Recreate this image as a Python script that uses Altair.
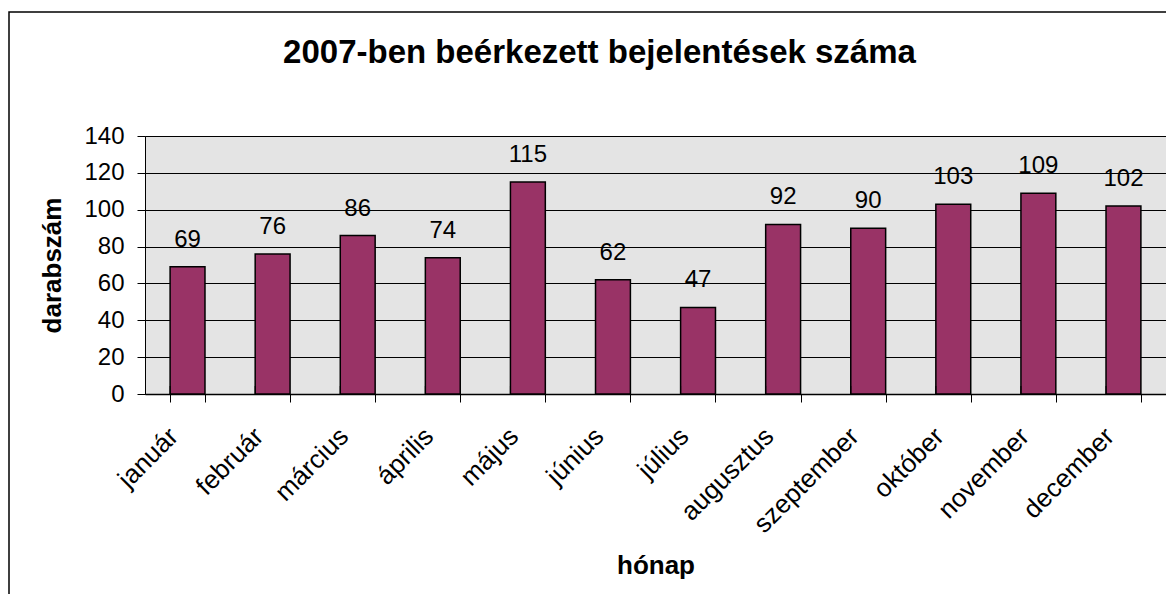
import altair as alt
import pandas as pd

# ---- data ----
months = ["január", "február", "március", "április", "május", "június",
          "július", "augusztus", "szeptember", "október", "november", "december"]
counts = [69, 76, 86, 74, 115, 62, 47, 92, 90, 103, 109, 102]
y_ticks = [0, 20, 40, 60, 80, 100, 120, 140]

title_text = "2007-ben beérkezett bejelentések száma"
x_title = "hónap"
y_title = "darabszám"

df = pd.DataFrame({"honap": months, "db": counts})

W, H = 1021, 258
FONT = "Liberation Sans"
BAR = "#993366"

x_axis = alt.Axis(
    labelAngle=-45, labelAlign="right", labelBaseline="middle",
    labelFontSize=26, labelFont=FONT, labelColor="black",
    labelPadding=30, labelOffset=-14, labelOverlap=False,
    tickBand="extent", tickSize=8, tickColor="black", tickWidth=1,
    domainColor="black", domainWidth=1.5,
    titleFont=FONT, titleFontSize=26, titleFontWeight="bold", titleColor="black",
    titleX=W / 2, titleY=179, titleBaseline="alphabetic", titleAlign="center",
    grid=False,
)
x_scale = alt.Scale(paddingInner=0.59, paddingOuter=0.295)

y_axis = alt.Axis(
    values=y_ticks, labelFontSize=24, labelFont=FONT, labelColor="black",
    labelPadding=13, labelOverlap=False, labelFlush=False, labelBound=False,
    tickSize=8, tickColor="black", tickWidth=1,
    domainColor="black", domainWidth=1,
    grid=True, gridColor="black", gridOpacity=1, gridWidth=1,
    titleFont=FONT, titleFontSize=26, titleFontWeight="bold", titleColor="black",
    titleAngle=270, titleX=-93, titleY=H / 2,
    titleBaseline="middle", titleAlign="center",
)
y_scale = alt.Scale(domain=[0, 140], nice=False)


def xenc(**kw):
    return alt.X("honap:N", sort=months, title=x_title, scale=x_scale, axis=x_axis, **kw)


def yenc():
    return alt.Y("db:Q", title=y_title, scale=y_scale, axis=y_axis)


base = alt.Chart(df)

bars = base.mark_bar(color=BAR, stroke="black", strokeWidth=1.5).encode(x=xenc(), y=yenc())

labels = base.mark_text(
    dy=-20, baseline="alphabetic", fontSize=24, font=FONT, color="black"
).encode(
    x=xenc(),
    y=yenc(),
    text=alt.Text("db:Q"),
)

# inner half of the category ticks (Excel-style crossing ticks)
inner_ticks = base.mark_rule(color="black", strokeWidth=1).encode(
    x=xenc(bandPosition=0),
    y=alt.value(H - 8), y2=alt.value(H),
)

frame = alt.Chart(pd.DataFrame({"f": [0]})).mark_rect(
    fillOpacity=0, stroke="black", strokeWidth=1.5
).encode(
    x=alt.value(-136), x2=alt.value(3000),
    y=alt.value(-124), y2=alt.value(3000),
)

chart = alt.layer(bars, labels, inner_ticks, frame).properties(
    width=W, height=H,
    title=alt.TitleParams(
        text=title_text, font=FONT, fontSize=33, fontWeight="bold", color="black",
        anchor="middle", dx=-56, offset=-85, baseline="alphabetic",
    ),
    autosize=alt.AutoSizeParams(type="none"),
    padding={"left": 137, "top": 128, "right": 0, "bottom": 200},
    background="white",
).configure_view(
    fill="#e4e4e4", stroke="#808080", strokeWidth=1
)

chart.save("out.html", embed_options={"renderer": "svg", "actions": False})
